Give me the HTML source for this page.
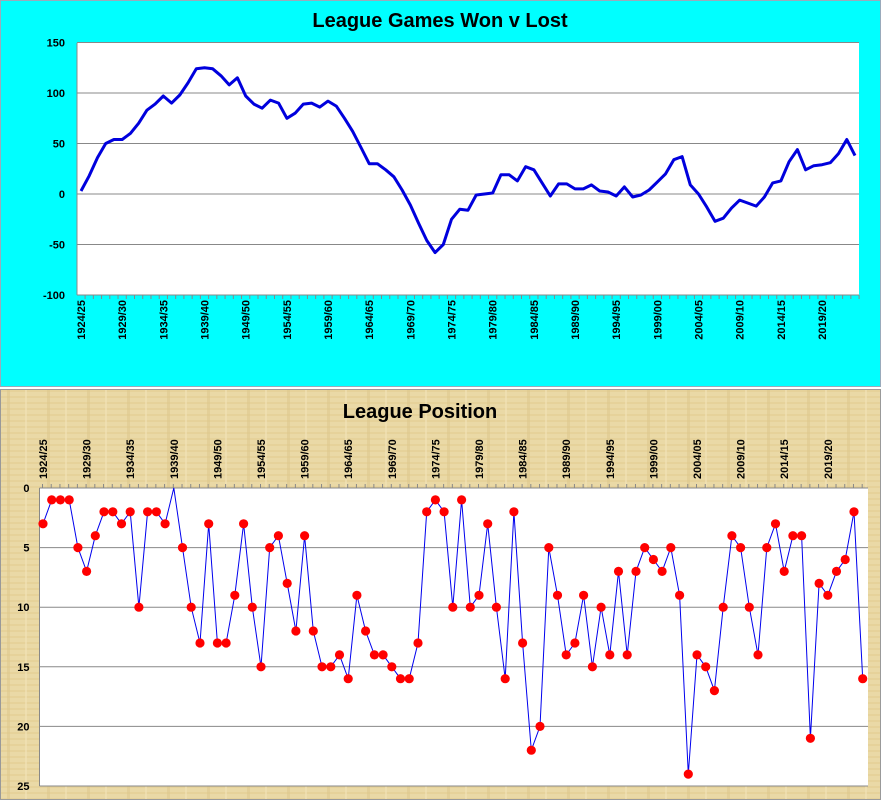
<!DOCTYPE html>
<html><head><meta charset="utf-8"><style>
html,body{margin:0;padding:0;width:881px;height:800px;overflow:hidden;background:#fff}
svg{display:block}
text{font-family:"Liberation Sans",sans-serif}
</style></head><body>
<svg id="s" width="881" height="800" viewBox="0 0 881 800" xmlns="http://www.w3.org/2000/svg">
<defs>
<pattern id="pap" width="40" height="6" patternUnits="userSpaceOnUse">
<rect width="40" height="6" fill="#ead9a6"/>
<rect x="0" y="0" width="40" height="2" fill="#e2cd92" opacity="0.6"/>
<rect x="7" y="0" width="3" height="6" fill="#dcc58a" opacity="0.5"/>
<rect x="25" y="0" width="2" height="6" fill="#f1e3b8" opacity="0.6"/>
</pattern>
</defs>
<rect x="0" y="0" width="881" height="387" fill="#00ffff"/>
<rect x="0.5" y="0.5" width="880" height="386" fill="none" stroke="#9ab" stroke-width="1"/>
<rect x="0" y="389" width="881" height="411" fill="url(#pap)"/>
<rect x="0.5" y="389.5" width="880" height="410" fill="none" stroke="#999" stroke-width="1"/>
<text x="440" y="27" text-anchor="middle" font-size="20" font-weight="bold">League Games Won v Lost</text>
<text x="420" y="418" text-anchor="middle" font-size="20" font-weight="bold">League Position</text>
<g id="g"></g>
</svg>
<script>
var g=document.getElementById('g'),h='';
var wl=[3,18,36,50,54,54,60,70,83,89,97,90,98,110,124,125,124,117,108,115,97,89,85,93,90,75,80,89,90,86,92,87,75,62,46,30,30,24,17,4,-11,-29,-46,-58,-50,-25,-15,-16,-1,0,1,19,19,13,27,24,11,-2,10,10,5,5,9,3,2,-2,7,-3,-1,4,12,20,34,37,9,0,-13,-27,-24,-14,-6,-9,-12,-3,11,13,32,44,24,28,29,31,40,54,38];
var pos=[3,1,1,1,5,7,4,2,2,3,2,10,2,2,3,0,5,10,13,3,13,13,9,3,10,15,5,4,8,12,4,12,15,15,14,16,9,12,14,14,15,16,16,13,2,1,2,10,1,10,9,3,10,16,2,13,22,20,5,9,14,13,9,15,10,14,7,14,7,5,6,7,5,9,24,14,15,17,10,4,5,10,14,5,3,7,4,4,21,8,9,7,6,2,16];
var labs=['1924/25','1929/30','1934/35','1939/40','1949/50','1954/55','1959/60','1964/65','1969/70','1974/75','1979/80','1984/85','1989/90','1994/95','1999/00','2004/05','2009/10','2014/15','2019/20'];
var L=77,R=859,T=43,B=295;
h+='<rect x="'+L+'" y="'+T+'" width="'+(R-L)+'" height="'+(B-T)+'" fill="#fff"/>';
function ty(v){return 194-v*1.01;}
for(var v=-100;v<=150;v+=50){var y=ty(v);h+='<line x1="'+L+'" x2="'+R+'" y1="'+y+'" y2="'+y+'" stroke="#888" stroke-width="1"/>';h+='<text x="'+(L-12)+'" y="'+(y+4)+'" text-anchor="end" font-size="11" font-weight="bold">'+v+'</text>';}
h+='<line x1="'+L+'" x2="'+L+'" y1="'+T+'" y2="'+B+'" stroke="#888"/>';
function tx(i){return 81+i*8.234;}
for(var i=0;i<95;i++){var x=tx(i)+4.1;h+='<line x1="'+x+'" x2="'+x+'" y1="'+B+'" y2="'+(B+4)+'" stroke="#888"/>';}
var p='';for(var i=0;i<95;i++)p+=(i?'L':'M')+tx(i).toFixed(1)+' '+ty(wl[i]).toFixed(1);
h+='<path d="'+p+'" fill="none" stroke="#0000dd" stroke-width="3" stroke-linejoin="round"/>';
for(var k=0;k<labs.length;k++){var x=tx(k*5)+4;h+='<text transform="translate('+x+',300) rotate(-90)" text-anchor="end" font-size="11" font-weight="bold">'+labs[k]+'</text>';}
var L2=39.5,R2=868,T2=488,B2=786;
h+='<rect x="'+L2+'" y="'+T2+'" width="'+(R2-L2)+'" height="'+(B2-T2)+'" fill="#fff"/>';
function by(v){return 488+v*11.92;}
for(var v=0;v<=25;v+=5){var y=by(v);h+='<line x1="'+L2+'" x2="'+R2+'" y1="'+y+'" y2="'+y+'" stroke="#888" stroke-width="1"/>';h+='<text x="'+(L2-10)+'" y="'+(y+4)+'" text-anchor="end" font-size="11" font-weight="bold">'+v+'</text>';}
h+='<line x1="'+L2+'" x2="'+L2+'" y1="'+T2+'" y2="'+B2+'" stroke="#888"/>';
function bx(i){return 43+i*8.72;}
for(var i=0;i<95;i++){var x=bx(i)-0.5;h+='<line x1="'+x+'" x2="'+x+'" y1="'+T2+'" y2="'+(T2-4)+'" stroke="#888"/>';}
p='';for(var i=0;i<95;i++)p+=(i?'L':'M')+bx(i).toFixed(1)+' '+by(pos[i]).toFixed(1);
h+='<path d="'+p+'" fill="none" stroke="#0000ee" stroke-width="1"/>';
for(var i=0;i<95;i++){if(i==15)continue;h+='<circle cx="'+bx(i).toFixed(1)+'" cy="'+by(pos[i]).toFixed(1)+'" r="4.6" fill="#ff0000"/>';}
for(var k=0;k<labs.length;k++){var x=bx(k*5)+4;h+='<text transform="translate('+x+',479) rotate(-90)" text-anchor="start" font-size="11" font-weight="bold">'+labs[k]+'</text>';}
g.innerHTML=h;
</script>
</body></html>
